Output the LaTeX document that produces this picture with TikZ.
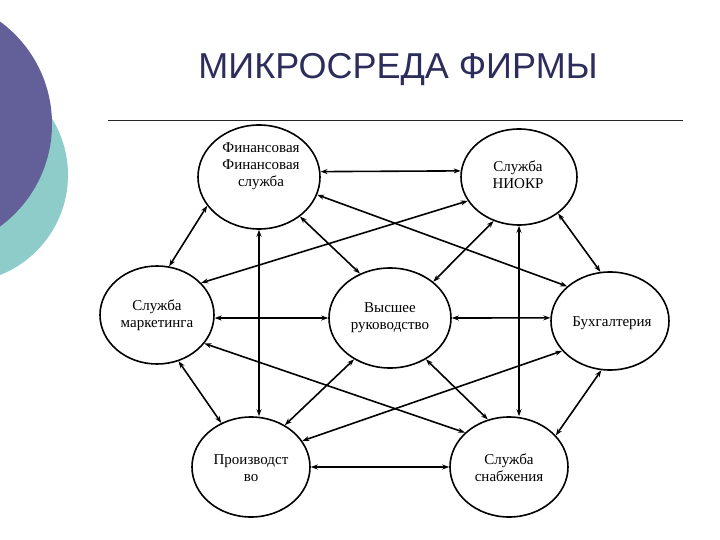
\documentclass[tikz,border=0pt]{standalone}
\usepackage{fontspec}
\setmainfont{Liberation Serif}
\newfontfamily\titlefont{Liberation Sans}
\usetikzlibrary{shapes.geometric,arrows.meta}
\definecolor{slatep}{RGB}{99,96,153}
\definecolor{tealc}{RGB}{141,204,200}
\definecolor{titlec}{RGB}{45,45,92}
\tikzset{
  unit/.style={draw=black, line width=1.6pt, ellipse, inner sep=0pt},
  txt/.style={font=\fontsize{15}{17}\selectfont, align=center, inner sep=0pt},
  link/.style={<->, line width=1.6pt, >={Stealth[length=7pt,width=5pt]}}
}
\begin{document}
\begin{tikzpicture}[x=1pt,y=-1pt]
\useasboundingbox (0,0) rectangle (720,540);
% decoration
\fill[tealc] (-39.5,175) circle (107.5);
\fill[slatep] (-75,124) circle (127);
% title and rule
\node[font=\titlefont\fontsize{36}{40}\selectfont, text=titlec, anchor=base] (title) at (398,79) {МИКРОСРЕДА ФИРМЫ};
\draw[line width=0.8pt, black!85] (108,120) coordinate (r1) -- (683,120) coordinate (r2);
% ellipses
\node[unit, minimum width=122pt, minimum height=104pt] (F) at (259,177) {};
\node[unit, minimum width=116pt, minimum height=96pt] (N) at (519,177) {};
\node[unit, minimum width=114pt, minimum height=98pt] (M) at (157,315) {};
\node[unit, minimum width=122pt, minimum height=100pt] (V) at (390,318) {};
\node[unit, minimum width=118pt, minimum height=98pt] (B) at (610,321) {};
\node[unit, minimum width=118pt, minimum height=100pt] (P) at (251,467) {};
\node[unit, minimum width=118pt, minimum height=100pt] (S) at (509,467) {};
% texts
\node[txt] (Ft) at (261,166) {Финансовая\\Финансовая\\служба};
\node[txt] (Nt) at (518,175) {Служба\\НИОКР};
\node[txt] (Mt) at (157,315) {Служба\\маркетинга};
\node[txt] (Vt) at (390,318) {Высшее\\руководство};
\node[txt] (Bt) at (612,323) {Бухгалтерия};
\node[txt] (Pt) at (251,468) {Производст\\во};
\node[txt] (St) at (509,468) {Служба\\снабжения};
% connectors
\draw[link] (F.209) -- (M.76);
\draw[link] (F.5.65) -- (N.174);
\draw[link] (F.343.5) -- (B.141);
\draw[link] (M.36.7) -- (N.205);
\draw[link] (F.316.4) -- (V.124.3);
\draw[link] (V.40.6) -- (N.240.4);
\draw[link] (F.south) -- (F.south |- P.north);
\draw[link] (N.south) -- (N.south |- S.north);
\draw[link] (N.317.7) -- (B.101.5);
\draw[link] (M.-3) -- (V.west |- M.-3);
\draw[link] (V.east) -- (B.177.1);
\draw[link] (M.329) -- (S.142.7);
\draw[link] (M.295.6) -- (P.124);
\draw[link] (P.51.3) -- (V.229.3);
\draw[link] (P.27) -- (B.212.6);
\draw[link] (V.311.6) -- (S.114);
\draw[link] (S.34.5) -- (B.260);
\draw[link] (P.east) -- (S.west);
\end{tikzpicture}
\end{document}
